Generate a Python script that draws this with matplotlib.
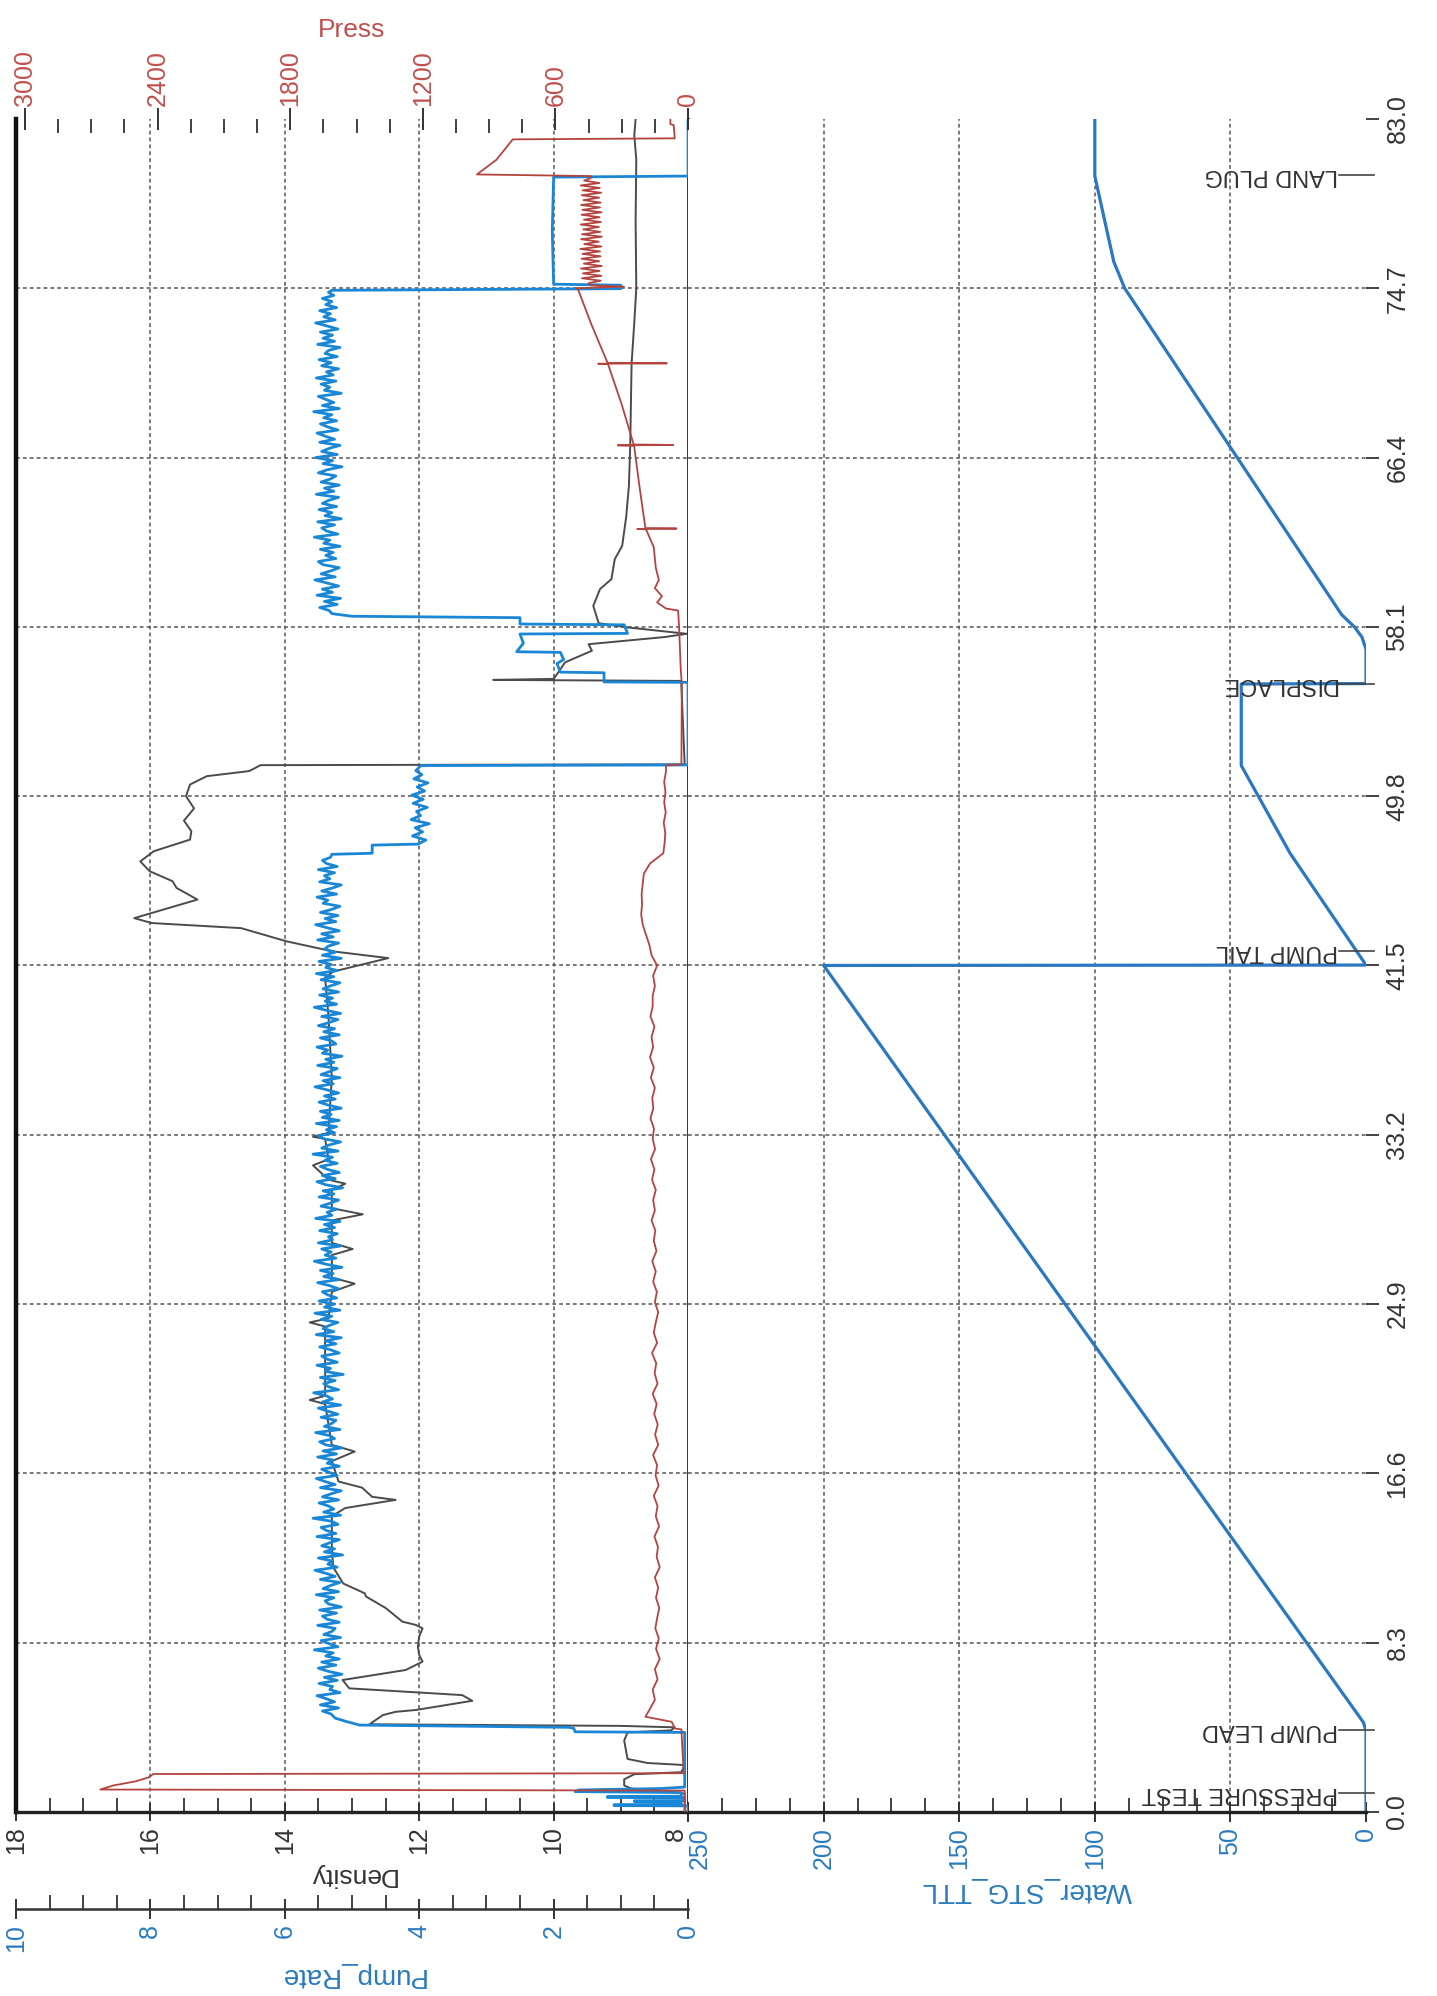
import numpy as np
import matplotlib.pyplot as plt
from matplotlib.ticker import MultipleLocator

plt.rcParams['font.family'] = ['Liberation Sans', 'DejaVu Sans']

# ---- axis ticks / labels ----
time_ticks = [0.0, 8.3, 16.6, 24.9, 33.2, 41.5, 49.8, 58.1, 66.4, 74.7, 83.0]
time_labels = ['0.0', '8.3', '16.6', '24.9', '33.2', '41.5', '49.8', '58.1', '66.4', '74.7', '83.0']
density_ticks = [18, 16, 14, 12, 10, 8]
pump_ticks = [10, 8, 6, 4, 2, 0]
press_ticks = [3000, 2400, 1800, 1200, 600, 0]
water_ticks = [250, 200, 150, 100, 50, 0]

# ---- events ----
event_times = [0.95, 4.0, 42.2, 55.3, 80.25]
event_names = ['PRESSURE TEST', 'PUMP LEAD', 'PUMP TAIL', 'DISPLACE', 'LAND PLUG']

# ---- Density (time, value) ----
density_trace = [
    (0, 8.05), (0.9, 8.05), (1.0, 8.3), (1.15, 8.85), (1.3, 8.95), (1.6, 8.95), (1.85, 8.8),
    (1.95, 8.1), (2.3, 8.05), (2.4, 8.6), (2.6, 8.9), (3.5, 8.95), (3.9, 8.9), (4.0, 8.25),
    (4.15, 8.2), (4.22, 9.0), (4.3, 12.74), (4.75, 12.54), (4.91, 12.35), (5.0, 12.05),
    (5.45, 11.21), (5.73, 11.36), (6.06, 13.04), (6.47, 13.14), (6.96, 12.2), (7.37, 11.95),
    (7.7, 12.0), (8.1, 12.02), (8.6, 12.0), (9.0, 11.95), (9.17, 12.05), (9.33, 12.25),
    (10.0, 12.5), (10.56, 12.79), (10.72, 12.81), (11.2, 13.13), (12.0, 13.28), (13.0, 13.3),
    (14.5, 13.3), (14.9, 13.1), (15.3, 12.35), (15.45, 12.7), (15.9, 12.85), (16.2, 13.2),
    (17.2, 13.3), (17.67, 12.96), (18.0, 13.3), (20.0, 13.4), (20.2, 13.63), (20.4, 13.4),
    (23.8, 13.4), (24.0, 13.63), (24.2, 13.35), (25.5, 13.3), (25.9, 12.96), (26.2, 13.3),
    (27.3, 13.3), (27.6, 12.99), (27.9, 13.3), (29.0, 13.3), (29.3, 12.84), (29.6, 13.3),
    (30.5, 13.3), (30.8, 13.1), (31.0, 13.35), (31.7, 13.58), (32.0, 13.35), (33.0, 13.4),
    (33.1, 13.58), (33.3, 13.35), (36.0, 13.3), (39.0, 13.35), (40.9, 13.4), (41.2, 13.28),
    (41.86, 12.46), (42.19, 13.28), (42.35, 13.51), (42.68, 13.97), (43.33, 14.65),
    (43.58, 15.98), (43.82, 16.24), (44.73, 15.30), (45.3, 15.61), (45.63, 15.67),
    (46.12, 16.01), (46.6, 16.15), (47.1, 15.95), (47.67, 15.41), (48.08, 15.39),
    (48.6, 15.5), (49.2, 15.35), (49.8, 15.47), (50.37, 15.41), (50.78, 15.16),
    (51.03, 14.53), (51.32, 14.36), (51.36, 8.05), (55.3, 8.1), (55.45, 8.1), (55.5, 10.9),
    (55.55, 10.0), (55.87, 9.93), (56.36, 9.83), (56.93, 9.43), (57.25, 9.48), (57.6, 8.35),
    (57.76, 8.02), (58.07, 8.89), (58.28, 9.33), (59.13, 9.41), (59.95, 9.31), (60.44, 9.14),
    (61.42, 9.09), (62.07, 8.98), (63.5, 8.92), (65.0, 8.88), (67.0, 8.86), (69.0, 8.85),
    (71.0, 8.84), (73.0, 8.8), (74.7, 8.77), (78.0, 8.78), (81.0, 8.77), (82.2, 8.8), (83.0, 8.78),
]

# ---- Pump_Rate ----
pump_start = [
    (0, 0), (0.3, 0), (0.31, 1.1), (0.36, 1.1), (0.37, 0.1), (0.5, 0.1), (0.51, 0.8),
    (0.55, 0.8), (0.56, 0.05), (0.7, 0.05), (0.71, 1.2), (0.76, 1.2), (0.77, 0.1),
    (0.95, 0.1), (1.0, 1.68), (1.08, 1.62), (1.15, 0.4), (1.22, 0.05), (3.9, 0.05),
    (3.93, 1.68), (4.1, 1.7), (4.15, 1.78), (4.26, 4.89), (4.45, 5.1), (4.6, 5.25),
]
pump_lead_vals = [
    5.31, 5.44, 5.20, 5.47, 5.26, 5.38, 5.52, 5.18, 5.33, 5.29, 5.49, 5.22, 5.41, 5.15, 5.36, 5.50, 5.24, 5.45, 5.19, 5.39,
    5.28, 5.56, 5.21, 5.34, 5.46, 5.17, 5.42, 5.30, 5.25, 5.51, 5.19, 5.37, 5.44, 5.23, 5.48, 5.16, 5.35, 5.40, 5.27, 5.53,
    5.20, 5.43, 5.32, 5.18, 5.47, 5.25, 5.39, 5.55, 5.22, 5.36, 5.29, 5.50, 5.14, 5.41, 5.26, 5.45, 5.33, 5.19, 5.52, 5.24,
    5.38, 5.46, 5.21, 5.30, 5.58, 5.17, 5.42, 5.27, 5.35, 5.49, 5.20, 5.44, 5.31, 5.16, 5.47, 5.25, 5.40, 5.53, 5.22, 5.34,
    5.45, 5.19, 5.37, 5.28, 5.51, 5.23, 5.43, 5.15, 5.39, 5.48, 5.26, 5.33, 5.54, 5.18, 5.41, 5.30, 5.24, 5.46, 5.21, 5.36,
    5.50, 5.17, 5.44, 5.29, 5.38, 5.57, 5.20, 5.35, 5.42, 5.25, 5.47, 5.13, 5.40, 5.32, 5.52, 5.22, 5.37, 5.45, 5.19, 5.31,
    5.48, 5.24, 5.39, 5.16, 5.53, 5.27, 5.43, 5.34, 5.21, 5.46, 5.30, 5.55, 5.18, 5.41, 5.26, 5.49, 5.23, 5.36, 5.44, 5.20,
    5.33, 5.51, 5.19, 5.42, 5.28, 5.47, 5.15, 5.38, 5.56, 5.24, 5.40, 5.31, 5.45, 5.17, 5.50, 5.29, 5.35, 5.22, 5.48, 5.26,
    5.41, 5.18, 5.54, 5.30, 5.37, 5.23, 5.46, 5.32, 5.20, 5.49, 5.27, 5.43, 5.14, 5.39, 5.52, 5.25, 5.44, 5.19, 5.36, 5.47,
    5.22, 5.40, 5.29, 5.58, 5.21, 5.45, 5.34, 5.17, 5.42, 5.50, 5.26, 5.38, 5.23, 5.53, 5.19, 5.44, 5.31, 5.47, 5.16, 5.35,
    5.49, 5.25, 5.41, 5.20, 5.37, 5.55, 5.28, 5.43, 5.18, 5.46, 5.33, 5.22, 5.51, 5.27, 5.39, 5.15, 5.44, 5.36, 5.52, 5.24,
    5.30, 5.47, 5.19, 5.42, 5.26, 5.50, 5.34, 5.21, 5.45, 5.17, 5.38, 5.56, 5.23, 5.40, 5.29, 5.48, 5.20, 5.43, 5.32, 5.18,
    5.46, 5.27, 5.53, 5.22, 5.39, 5.31, 5.49, 5.16, 5.44, 5.25, 5.41, 5.35, 5.20, 5.51, 5.28, 5.45, 5.19, 5.37, 5.54, 5.24,
    5.40, 5.21, 5.47, 5.30, 5.18, 5.43, 5.36, 5.52, 5.23, 5.45, 5.29, 5.16, 5.48, 5.33, 5.41, 5.26, 5.50, 5.22, 5.38, 5.44,
    5.32,
]
pump_mid = [(46.95, 5.3), (47.0, 4.7), (47.4, 4.7)]
pump_tail_vals = [4.02, 3.90, 4.10, 3.95, 4.06, 3.85, 4.12, 3.98, 4.04, 3.88,
                  4.09, 3.94, 4.11, 3.92, 4.03, 3.87, 4.08, 3.96, 4.05, 3.99]
pump_gap = [
    (51.3, 3.98), (51.33, 0.0), (55.38, 0.0), (55.4, 1.25), (55.85, 1.25), (55.88, 1.9),
    (56.3, 1.95), (56.5, 1.85), (56.85, 1.9), (56.88, 2.55), (57.3, 2.45), (57.75, 2.5),
    (57.78, 0.9), (58.2, 0.95), (58.24, 2.5), (58.55, 2.5), (58.62, 5.0), (58.75, 5.3),
]
pump_disp_vals = [
    5.34, 5.48, 5.22, 5.41, 5.17, 5.52, 5.29, 5.44, 5.20, 5.37, 5.55, 5.25, 5.46, 5.31, 5.19, 5.43, 5.50, 5.24, 5.39, 5.28,
    5.47, 5.18, 5.42, 5.33, 5.56, 5.21, 5.38, 5.45, 5.26, 5.51, 5.16, 5.40, 5.30, 5.49, 5.23, 5.44, 5.35, 5.20, 5.53, 5.27,
    5.41, 5.19, 5.46, 5.32, 5.24, 5.50, 5.37, 5.15, 5.43, 5.29, 5.54, 5.22, 5.45, 5.34, 5.18, 5.48, 5.26, 5.40, 5.52, 5.21,
    5.36, 5.47, 5.23, 5.42, 5.30, 5.57, 5.19, 5.44, 5.27, 5.39, 5.50, 5.16, 5.41, 5.33, 5.46, 5.24, 5.53, 5.28, 5.38, 5.20,
    5.45, 5.31, 5.49, 5.22, 5.40, 5.35, 5.18, 5.51, 5.26, 5.43, 5.29, 5.47, 5.21, 5.37, 5.54, 5.25, 5.42, 5.32, 5.48, 5.23,
    5.39, 5.30, 5.44, 5.27, 5.35,
]
pump_end = [(74.6, 5.3), (74.68, 1.0), (74.85, 1.0), (74.9, 2.0), (77.5, 2.02),
            (80.15, 2.0), (80.2, 0.0), (83.0, 0.0)]

# ---- Press ----
press_start = [(0, 15), (1.05, 15), (1.1, 2660), (1.3, 2600), (1.5, 2500), (1.7, 2440),
               (1.86, 2420), (1.9, 20), (4.05, 30), (4.09, 59), (4.42, 74), (4.67, 193)]
press_job_vals = [
    175, 150, 160, 138, 150, 128, 145, 132, 148, 140,
    130, 145, 135, 150, 128, 142, 136, 152, 131, 146,
    138, 155, 133, 147, 140, 158, 135, 149, 137, 153,
    142, 160, 138, 151, 144, 163, 140, 155, 146, 135,
    150, 141, 158, 146, 162, 143, 155, 148, 165, 150,
    158, 146, 163, 152, 168, 149, 160, 154, 170, 157,
    162, 150, 168, 155, 172, 158, 165, 152, 170, 160,
    160, 150, 158, 140, 165, 175, 190, 205, 212, 208,
    210, 205, 200, 172, 112, 106, 103, 110, 101, 108,
    102, 108, 100,
]
press_disp = [
    (51.3, 100), (51.36, 30), (55.3, 28), (56.0, 33), (58.0, 40), (58.9, 45), (59.0, 100),
    (59.3, 140), (59.6, 118), (60.0, 150), (60.4, 132), (61.0, 146), (62.0, 155),
    (62.88, 190), (62.9, 230), (62.92, 52), (62.94, 193), (65.0, 220), (66.98, 244),
    (67.0, 318), (67.02, 67), (67.04, 246), (69.0, 300), (70.98, 362), (71.0, 407),
    (71.02, 96), (71.04, 364), (73.0, 440), (74.6, 496), (74.7, 505), (74.78, 290), (74.85, 440),
]
press_plug_vals = [
    450, 395, 480, 392, 476, 400, 485, 390, 472, 402,
    482, 396, 478, 398, 488, 392, 470, 404, 484, 390,
    480, 397, 474, 403, 486, 394, 471, 400, 482, 391,
    478, 398, 484, 395, 473, 402, 481, 393, 477, 399,
    486, 401, 470, 440,
]
press_end = [(80.2, 440), (80.28, 955), (81.0, 867), (82.0, 793), (82.05, 60),
             (82.7, 65), (82.75, 80), (83.0, 80)]

# ---- Water_STG_TTL ----
water_trace = [
    (0, 0), (4.0, 0), (4.4, 1), (41.5, 200), (41.52, 0), (47.0, 28), (51.3, 46),
    (55.3, 46), (55.32, 0), (57.0, 0), (57.6, 1.5), (58.1, 4.3), (58.7, 9), (74.7, 89),
    (76.0, 93), (80.2, 100), (83.0, 100),
]


def split(pts):
    t, v = zip(*pts)
    return np.array(t), np.array(v)


dens_t, dens_v = split(density_trace)
pump_t = np.concatenate([split(pump_start)[0], np.linspace(4.8, 46.8, len(pump_lead_vals)),
                         split(pump_mid)[0], np.linspace(47.45, 51.25, len(pump_tail_vals)),
                         split(pump_gap)[0], np.linspace(58.9, 74.5, len(pump_disp_vals)),
                         split(pump_end)[0]])
pump_v = np.concatenate([split(pump_start)[1], pump_lead_vals, split(pump_mid)[1],
                         pump_tail_vals, split(pump_gap)[1], pump_disp_vals, split(pump_end)[1]])
press_t = np.concatenate([split(press_start)[0], np.linspace(5.0, 51.0, len(press_job_vals)),
                          split(press_disp)[0], np.linspace(74.95, 80.1, len(press_plug_vals)),
                          split(press_end)[0]])
press_v = np.concatenate([split(press_start)[1], press_job_vals, split(press_disp)[1],
                          press_plug_vals, split(press_end)[1]])
water_t, water_v = split(water_trace)

# colours
dark = '#333333'
blue_txt = '#2b7bc0'
red_txt = '#c0504d'
grid_c = '#555555'
dots = (0, (2.5, 2))

fig = plt.figure(figsize=(14.37, 19.96), dpi=100)
L, M, R = 0.0111, 0.4788, 0.9506
B, T = 0.0922, 0.9404
axL = fig.add_axes([L, B, M - L, T - B])
axR = fig.add_axes([M, B, R - M, T - B])
axP = axL.twiny()
axS = axL.twiny()

# ---------------- left panel (Density / Pump_Rate / Press) ----------------
axL.set_xlim(18, 8)
axL.set_ylim(0, 83)
axP.set_xlim(10, 0)
axS.set_xlim(3041, 0)

for v in density_ticks[1:-1]:
    axL.axvline(v, color=grid_c, lw=1.1, ls=dots, zorder=0)
for t in time_ticks[1:-1]:
    axL.axhline(t, color=grid_c, lw=1.1, ls=dots, zorder=0)
    axR.axhline(t, color=grid_c, lw=1.1, ls=dots, zorder=0)

axL.plot(dens_v, dens_t, color='#4b4b4b', lw=1.4)
axP.plot(pump_v, pump_t, color='#1a87d6', lw=2.0)
axS.plot(press_v, press_t, color='#b4443f', lw=1.3)

axL.set_yticks([])
axL.set_xticks(density_ticks)
axL.set_xticklabels([str(v) for v in density_ticks])
axL.xaxis.set_minor_locator(MultipleLocator(0.5))
axL.tick_params(axis='x', which='major', direction='inout', length=13, width=1.4,
                colors=dark, labelsize=18, labelrotation=90, pad=4)
axL.tick_params(axis='x', which='minor', direction='in', length=10, width=1.3, color=dark)
axL.get_xticklabels()[-1].set_horizontalalignment('right')
axL.set_xlabel('Density', fontsize=19, color=dark, rotation=180, labelpad=6)
axL.spines['top'].set_visible(False)
axL.spines['left'].set_linewidth(3.2)
axL.spines['left'].set_color('#111111')
axL.spines['bottom'].set_linewidth(2.4)
axL.spines['bottom'].set_color('#222222')
axL.spines['right'].set_linewidth(2.0)
axL.spines['right'].set_color('#222222')

for s in ['top', 'left', 'right']:
    axP.spines[s].set_visible(False)
axP.xaxis.set_ticks_position('bottom')
axP.xaxis.set_label_position('bottom')
axP.spines['bottom'].set_position(('outward', 70))
axP.spines['bottom'].set_linewidth(1.8)
axP.spines['bottom'].set_color('#333333')
axP.set_xticks(pump_ticks)
axP.set_xticklabels([str(v) for v in pump_ticks])
axP.xaxis.set_minor_locator(MultipleLocator(0.5))
axP.tick_params(axis='x', which='major', direction='inout', length=14, width=1.4,
                color=dark, labelcolor=blue_txt, labelsize=18, labelrotation=90, pad=4)
axP.tick_params(axis='x', which='minor', direction='in', length=10, width=1.3, color=dark)
axP.set_xlabel('Pump_Rate', fontsize=20, color=blue_txt, rotation=180, labelpad=7)

for s in ['top', 'left', 'right', 'bottom']:
    axS.spines[s].set_visible(False)
axS.xaxis.set_ticks_position('top')
axS.xaxis.set_label_position('top')
axS.set_xticks(press_ticks)
axS.set_xticklabels([str(v) for v in press_ticks])
axS.xaxis.set_minor_locator(MultipleLocator(150))
axS.tick_params(axis='x', which='major', direction='inout', length=16, width=1.4,
                color=dark, labelcolor=red_txt, labelsize=18, labelrotation=90, pad=1)
axS.tick_params(axis='x', which='minor', direction='in', length=10, width=1.3, color=dark)
axS.set_xlabel('Press', fontsize=19, color=red_txt, labelpad=10)

# ---------------- right panel (Water_STG_TTL) ----------------
axR.set_xlim(250, 0)
axR.set_ylim(0, 83)
for v in water_ticks[1:-1]:
    axR.axvline(v, color=grid_c, lw=1.1, ls=dots, zorder=0)
axR.plot(water_v, water_t, color='#2a78c2', lw=2.3)

axR.set_xticks(water_ticks)
axR.set_xticklabels([str(v) for v in water_ticks])
axR.xaxis.set_minor_locator(MultipleLocator(12.5))
axR.tick_params(axis='x', which='major', direction='inout', length=14, width=1.4,
                color=dark, labelcolor=blue_txt, labelsize=18, labelrotation=90, pad=4)
axR.tick_params(axis='x', which='minor', direction='in', length=10, width=1.3, color=dark)
axR.get_xticklabels()[0].set_horizontalalignment('left')
axR.set_xlabel('Water_STG_TTL', fontsize=20, color=blue_txt, rotation=180, labelpad=6)

axR.yaxis.tick_right()
axR.set_yticks(time_ticks)
axR.set_yticklabels(time_labels, va='center')
axR.tick_params(axis='y', direction='out', length=9, width=1.3, colors=dark,
                labelsize=18, labelrotation=90, pad=5)
for s in ['top', 'left', 'right']:
    axR.spines[s].set_visible(False)
axR.spines['bottom'].set_linewidth(2.4)
axR.spines['bottom'].set_color('#222222')

for t, name in zip(event_times, event_names):
    axR.plot([-3, 10], [t, t], color='#444444', lw=1.2, clip_on=False)
    axR.text(10.5, t, name, rotation=180, ha='right', va='center', fontsize=17, color='#333333')

fig.savefig('out.png', dpi=100)
